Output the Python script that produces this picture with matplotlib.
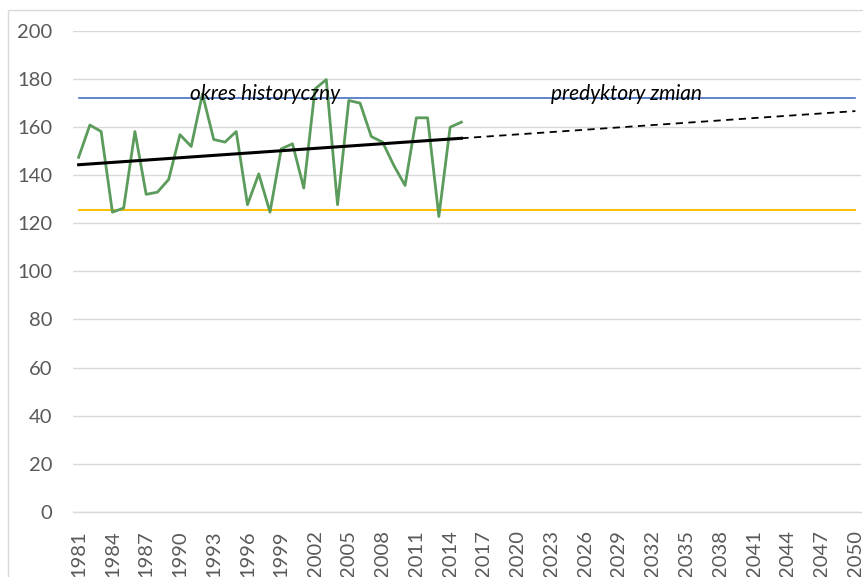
import matplotlib
matplotlib.use("Agg")
import matplotlib.pyplot as plt
from matplotlib.patches import Rectangle

plt.rcParams['font.family'] = ['Lato', 'DejaVu Sans']

# Data
years = list(range(1981, 2051))
hist_years = list(range(1981, 2016))
hist_values = [147.4, 160.8, 158.1, 124.6, 126.3, 158.1, 132.0, 132.9, 138.2, 156.8,
               151.9, 173.7, 154.8, 153.7, 158.1, 127.7, 140.5, 124.6, 150.9, 153.0,
               134.6, 175.8, 179.7, 127.7, 171.0, 169.9, 156.0, 153.7, 144.0, 135.7,
               163.8, 163.8, 122.8, 159.9, 162.0]
upper_level = 172.0
lower_level = 125.5
trend_hist_years = [1981, 2015]
trend_hist_values = [144.3, 155.3]
trend_proj_years = [2015, 2050]
trend_proj_values = [155.3, 166.6]
label_hist = "okres historyczny"
label_proj = "predyktory zmian"
yticks = list(range(0, 201, 20))

W, H = 863, 577
fig = plt.figure(figsize=(W / 100, H / 100), dpi=100)
ax = fig.add_axes([73 / W, 1 - 512 / H, 788 / W, (512 - 30.7) / H])

pos = {y: i for i, y in enumerate(years)}
def px(ys):
    return [pos[y] for y in ys]

ax.plot(px([years[0], years[-1]]), [upper_level, upper_level], color='#4472C4', lw=1.2, zorder=3)
ax.plot(px([years[0], years[-1]]), [lower_level, lower_level], color='#FFC000', lw=1.4, zorder=3)
ax.plot(px(hist_years), hist_values, color='#5B9B5B', lw=2.0, zorder=4)
ax.plot(px(trend_hist_years), trend_hist_values, color='black', lw=2.2, zorder=5)
ax.plot(px(trend_proj_years), trend_proj_values, color='black', lw=1.3,
        ls=(0, (4, 3)), zorder=5)

ax.text(pos[1997] + 0.55, 171.0, label_hist, style='italic', fontsize=15,
        ha='center', va='baseline', color='black', zorder=6)
ax.text(pos[2030] - 0.3, 171.0, label_proj, style='italic', fontsize=15,
        ha='center', va='baseline', color='black', zorder=6)

ax.set_xlim(-0.5, len(years) - 0.5)
ax.set_ylim(0, 200)
ax.set_yticks(yticks)
ax.set_yticklabels([str(v) for v in yticks])
tick_years = years[::3]
ax.set_xticks(px(tick_years))
ax.set_xticklabels([str(y) for y in tick_years], rotation=90)
ax.tick_params(axis='both', length=0, labelsize=14.5, labelcolor='#595959')
ax.tick_params(axis='x', pad=13)
ax.tick_params(axis='y', pad=15)
ax.grid(axis='y', color='#D9D9D9', lw=1.0)
ax.set_axisbelow(True)
for s in ['top', 'right', 'left']:
    ax.spines[s].set_visible(False)
ax.spines['bottom'].set_color('#D9D9D9')
ax.spines['bottom'].set_linewidth(1.0)

fig.patches.append(Rectangle((8 / W, -0.1), 1.2, 1 - 10 / H + 0.1,
                             transform=fig.transFigure, fill=False,
                             edgecolor='#D9D9D9', lw=1.0))

fig.savefig('out.png', dpi=100)
